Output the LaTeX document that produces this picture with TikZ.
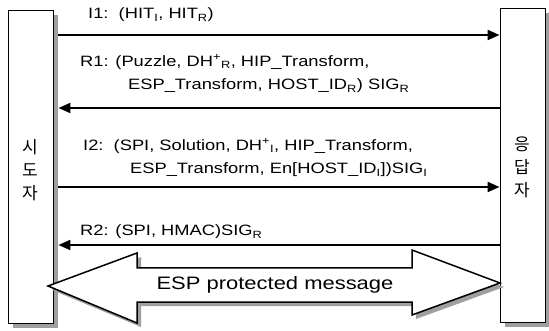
\documentclass[tikz,border=0pt]{standalone}
\usepackage{fontspec}
\setmainfont{Liberation Sans}[FakeStretch=1.22]
\newfontfamily\krfont{Noto Sans CJK KR}
\usetikzlibrary{arrows.meta,shadows}

\tikzset{
  party/.style={draw, line width=0.9pt, fill=white, minimum width=45pt, inner sep=0pt,
    drop shadow={shadow xshift=5pt, shadow yshift=-5pt, fill=gray!75, opacity=1}},
  msg/.style={line width=2pt, -{Triangle[length=12pt,width=10pt]}},
  lbl/.style={anchor=west, inner sep=0pt, font=\fontsize{15}{17}\selectfont},
  who/.style={font=\krfont\fontsize{17}{23}\selectfont, align=center, inner sep=0pt},
}

\begin{document}
\begin{tikzpicture}[x=1pt,y=-1pt]
\useasboundingbox (0,0) rectangle (549,331);

% Parties
\node[party, minimum height=313pt] (init) at (30.5,166.5) {};
\node[party, minimum height=314pt] (resp) at (522.5,165) {};
\node[who] (init-name) at (30,170) {시\\도\\자};
\node[who] (resp-name) at (522,167) {응\\답\\자};

% Message levels
\coordinate (i1) at (0,35);
\coordinate (r1) at (0,108);
\coordinate (i2) at (0,187);
\coordinate (r2) at (0,245);

% Messages
\draw[msg] ([xshift=5pt]init.east |- i1) -- (resp.west |- i1);
\node[lbl] (i1-text) at (88,15) {I1:\ \ (HIT\textsubscript{I}, HIT\textsubscript{R})};

\draw[msg] (resp.west |- r1) -- ([xshift=5pt]init.east |- r1);
\node[lbl] (r1-text) at (80,62) {R1: (Puzzle, DH\textsuperscript{+}\textsubscript{R}, HIP\_Transform,};
\node[lbl] (r1-more) at (128,86) {ESP\_Transform, HOST\_ID\textsubscript{R}) SIG\textsubscript{R}};

\draw[msg] ([xshift=5pt]init.east |- i2) -- (resp.west |- i2);
\node[lbl] (i2-text) at (83,146) {I2:\ \ (SPI, Solution, DH\textsuperscript{+}\textsubscript{I}, HIP\_Transform,};
\node[lbl] (i2-more) at (130,170) {ESP\_Transform, En[HOST\_ID\textsubscript{I}])SIG\textsubscript{I}};

\draw[msg] (resp.west |- r2) -- ([xshift=5pt]init.east |- r2);
\node[lbl] (r2-text) at (80,232) {R2: (SPI, HMAC)SIG\textsubscript{R}};

% ESP channel
\fill[gray!75] (52,290) -- (141,257) -- (141,272) -- (416,272) -- (416,254) -- (504,287)
  -- (416,319) -- (416,306) -- (141,306) -- (141,327) -- cycle;
\draw[line width=1.5pt, fill=white] (48,286) -- (137,253) -- (137,268) -- (412,268) -- (412,250)
  -- (500,283) -- (412,315) -- (412,302) -- (137,302) -- (137,323) -- cycle;
\node[lbl, anchor=center, font=\fontsize{18}{20}\selectfont] (esp) at (275,285) {ESP protected message};

\end{tikzpicture}
\end{document}
